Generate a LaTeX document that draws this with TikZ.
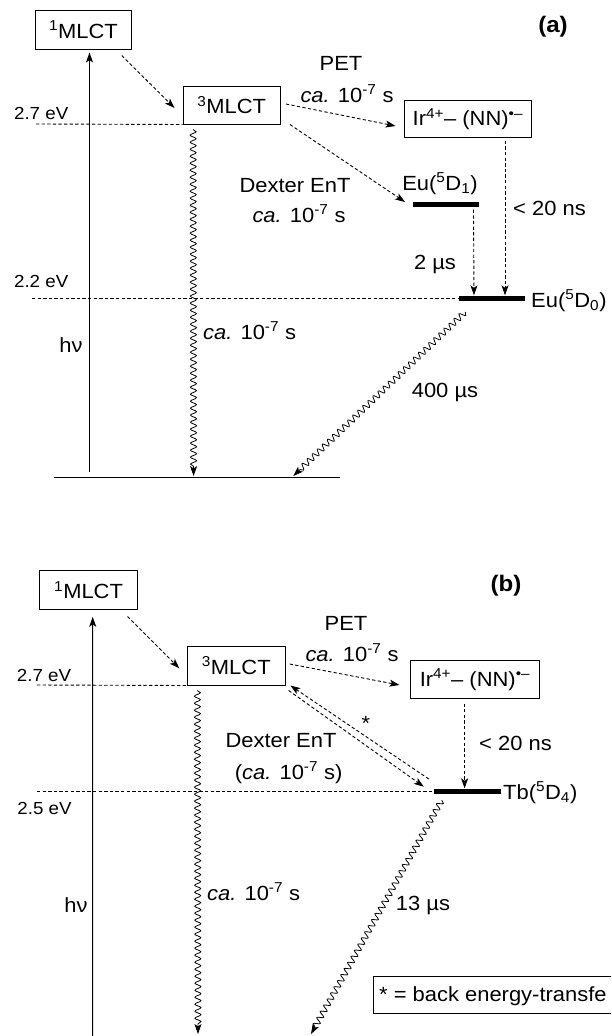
\documentclass[tikz,border=0pt]{standalone}
\usepackage{fontspec}
\setmainfont{Liberation Sans}[FakeStretch=1.07]
\usetikzlibrary{arrows.meta,decorations.pathmorphing}
\begin{document}
\begin{tikzpicture}[x=1pt,y=-1pt,
  txt/.style={font=\fontsize{20.5}{24}\selectfont, inner sep=0pt, anchor=base},
  txtw/.style={txt, anchor=base west},
  small/.style={font=\fontsize{17.5}{21}\selectfont, inner sep=0pt, anchor=base},
  panel/.style={font=\fontsize{22.5}{26}\selectfont\bfseries, inner sep=0pt, anchor=base},
  box/.style={draw, line width=1pt, inner sep=0pt, font=\fontsize{20.5}{24}\selectfont},
  lvl/.style={fill=black, inner sep=0pt, minimum height=5pt},
  dsh/.style={line width=0.9pt, dash pattern=on 3.3pt off 2.3pt},
  arr/.style={-{Stealth[length=10pt,width=7pt,inset=2.5pt]}},
  wav/.style={line width=0.8pt, decorate, decoration={snake, amplitude=3pt, segment length=7pt, post length=8pt}},
  solid1/.style={line width=1pt}]
\useasboundingbox (0,0) rectangle (611,1036);
\clip (0,0) rectangle (611,1036);

% ================= (a) =================
\node[box, minimum width=96.7pt, minimum height=39pt] (m1a) at (83.4,29.5) {\textsuperscript{1}MLCT};
\node[box, minimum width=97.4pt, minimum height=38pt] (m3a) at (231.7,105) {\textsuperscript{3}MLCT};
\node[box, minimum width=127.7pt, minimum height=36.6pt] (ira) at (467.9,119) {Ir\textsuperscript{4+}– (NN)\textsuperscript{•–}};
\node[lvl, minimum width=66.6pt] (eu1) at (446,204) {};
\node[lvl, minimum width=66pt] (eu0) at (491.5,298) {};
\coordinate (ga) at (54,477);
\coordinate (gb) at (340,477);
\coordinate (l27a) at (36,124);
\coordinate (l22a) at (32,298);
\coordinate (exa) at (89.5,472);
\coordinate (wa) at (193.6,476);
\coordinate (wda) at (293.3,476);

\draw[solid1] (ga) -- (gb);
\draw[dsh] (l27a) -- (m3a.south west);
\draw[dsh] (l22a) -- (eu0.west);

\draw[solid1, arr] (exa) -- ([shift={(6.1,3)}]m1a.south);
\draw[dsh, arr] ([shift={(-10.5,6)}]m1a.south east) -- ([shift={(-8,3)}]m3a.west);
\draw[dsh, arr] ([shift={(5,-1)}]m3a.east) -- ([shift={(-8,7)}]ira.west);
\draw[dsh, arr] ([shift={(9,0)}]m3a.south east) -- ([shift={(-7.5,-2)}]eu1.west);
\draw[dsh, arr] ([shift={(27.5,3)}]eu1.south) -- ([xshift=-17.5]eu0.north);
\draw[dsh, arr] ([shift={(37.1,3)}]ira.south) -- ([xshift=13.5]eu0.north);
\draw[wav, arr] ([shift={(10.6,5)}]m3a.south west) -- (wa);
\draw[wav, arr] ([shift={(7,11.2)}]eu0.south west) -- (wda);

\node[small] (t27a) at (41.2,119) {2.7 eV};
\node[small] (t22a) at (41.2,287) {2.2 eV};
\node[txt] (peta) at (341,70) {PET};
\node[txt] (capa) at (347,102) {\textit{ca.} 10\textsuperscript{-7} s};
\node[txt] (dexa) at (295,192) {Dexter EnT};
\node[txt] (cada) at (299,222) {\textit{ca.} 10\textsuperscript{-7} s};
\node[txt] (eu1t) at (440,190) {Eu(\textsuperscript{5}D\textsubscript{1})};
\node[txtw] (nsa) at (513,215) {< 20 ns};
\node[txt] (usa) at (435,269) {2 µs};
\node[txtw] (eu0t) at (531,307) {Eu(\textsuperscript{5}D\textsubscript{0})};
\node[txtw] (cawa) at (203,339) {\textit{ca.} 10\textsuperscript{-7} s};
\node[txt] (hva) at (71,352) {hν};
\node[txt] (u400) at (445,397) {400 µs};
\node[panel] (la) at (553,32) {(a)};

% ================= (b) =================
\node[box, minimum width=97.4pt, minimum height=38.6pt] (m1b) at (88.6,590) {\textsuperscript{1}MLCT};
\node[box, minimum width=97.5pt, minimum height=39pt] (m3b) at (236.3,665.5) {\textsuperscript{3}MLCT};
\node[box, minimum width=128.5pt, minimum height=37.5pt] (irb) at (475,679.5) {Ir\textsuperscript{4+}– (NN)\textsuperscript{•–}};
\node[lvl, minimum width=67pt] (tb) at (467.5,791) {};
\coordinate (l27b) at (37,685);
\coordinate (l25b) at (37,791);
\coordinate (exb) at (92.7,1040);
\coordinate (wb) at (198,1034);
\coordinate (wdb) at (311,1034);

\draw[dsh] (l27b) -- (m3b.south west);
\draw[dsh] (l25b) -- (tb.west);

\draw[solid1, arr] (exb) -- ([shift={(4.1,7)}]m1b.south);
\draw[dsh, arr] ([shift={(-10.3,6.7)}]m1b.south east) -- ([shift={(-7.7,2.8)}]m3b.west);
\draw[dsh, arr] ([shift={(4.1,-1.5)}]m3b.east) -- ([shift={(-10.75,5.5)}]irb.west);
\draw[dsh, arr] ([shift={(-10.4,4.75)}]irb.south) -- ([xshift=-2.9]tb.north);
\draw[dsh, arr] ([shift={(3.1,5)}]m3b.south east) -- ([shift={(-10,-4.3)}]tb.west);
\draw[dsh, arr] ([shift={(-5,-12)}]tb.west) -- ([shift={(4.8,0)}]m3b.south east);
\draw[wav, arr] ([shift={(10.3,5)}]m3b.south west) -- (wb);
\draw[wav, arr] ([shift={(8,6.5)}]tb.south west) -- (wdb);

\node[panel] (lb) at (506,591) {(b)};
\node[small] (t27b) at (44,681) {2.7 eV};
\node[small] (t25b) at (44.5,814) {2.5 eV};
\node[txt] (petb) at (346,630) {PET};
\node[txt] (capb) at (352,661) {\textit{ca.} 10\textsuperscript{-7} s};
\node[txtw] (nsb) at (479,750) {< 20 ns};
\node[txt] (dexb) at (281,747) {Dexter EnT};
\node[txt] (cadb) at (288.7,779) {(\textit{ca.} 10\textsuperscript{-7} s)};
\node[txt] (star) at (366,730) {*};
\node[txtw] (tbt) at (503,799) {Tb(\textsuperscript{5}D\textsubscript{4})};
\node[txtw] (cawb) at (207,900) {\textit{ca.} 10\textsuperscript{-7} s};
\node[txt] (hvb) at (76,912) {hν};
\node[txt] (u13) at (423,910) {13 µs};
% note box, open at the page edge as in the reference
\node[txtw] (note) at (379,1001.5) {* = back energy-transfe};
\coordinate (nbr) at (611,1013);
\coordinate (ntr) at (611,976);
\draw[solid1] (ntr) -- (373,976) -- (373,1013) -- (nbr);
\end{tikzpicture}
\end{document}
